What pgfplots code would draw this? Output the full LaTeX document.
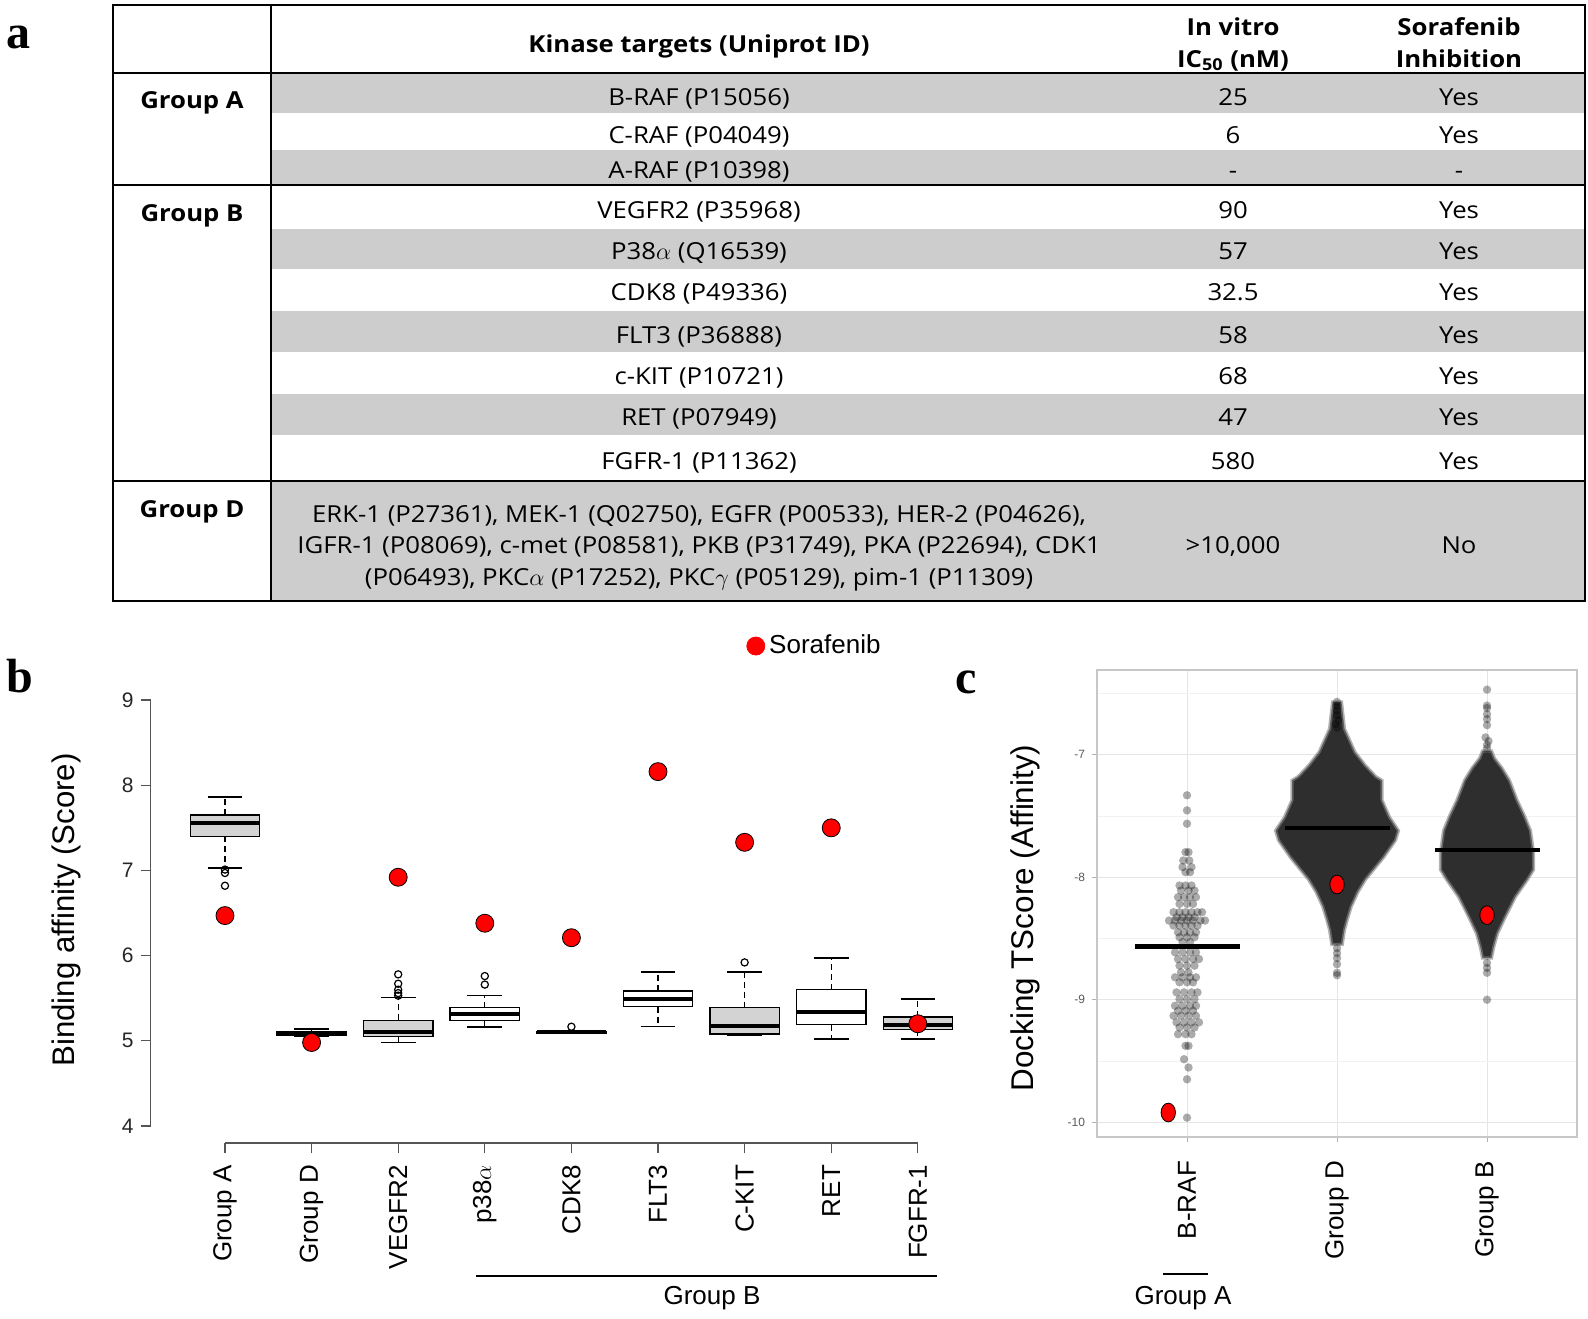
\documentclass[border=0pt]{standalone}
\usepackage{fontspec}
\setmainfont{Liberation Sans}
\newfontfamily\tabfont[FakeStretch=1.1]{Open Sans}
\newfontfamily\serifb{Liberation Serif}
\usepackage{pgfplots}
\pgfplotsset{compat=1.18}
\usepgfplotslibrary{statistics}
\definecolor{tabgray}{RGB}{205,205,205}
\definecolor{boxgray}{RGB}{211,211,211}
\definecolor{axgray}{RGB}{85,85,85}
\definecolor{dotred}{RGB}{255,0,0}
\definecolor{ptgray}{RGB}{150,150,150}
\newcommand\tf{\tabfont\fontsize{11.7}{14}\selectfont}
\newcommand\tfb{\tabfont\bfseries\fontsize{11.7}{14}\selectfont}
\pgfplotsset{
  rbox/.style={
    forget plot,
    boxplot/draw direction=y,
    boxplot/box extend=0.8,
    boxplot/whisker extend=0.4,
    boxplot/every median/.style={line width=2pt},
    boxplot/draw/lower whisker/.code={%
      \draw[line width=0.6pt, dash pattern=on 3pt off 2pt]
        (boxplot cs:\pgfplotsboxplotvalue{lower quartile}) --
        (boxplot cs:\pgfplotsboxplotvalue{lower whisker});
      \draw[line width=0.7pt, solid]
        (boxplot whisker cs:\pgfplotsboxplotvalue{lower whisker},0) --
        (boxplot whisker cs:\pgfplotsboxplotvalue{lower whisker},1);
    },
    boxplot/draw/upper whisker/.code={%
      \draw[line width=0.6pt, dash pattern=on 3pt off 2pt]
        (boxplot cs:\pgfplotsboxplotvalue{upper quartile}) --
        (boxplot cs:\pgfplotsboxplotvalue{upper whisker});
      \draw[line width=0.7pt, solid]
        (boxplot whisker cs:\pgfplotsboxplotvalue{upper whisker},0) --
        (boxplot whisker cs:\pgfplotsboxplotvalue{upper whisker},1);
    },
  },
}
\begin{document}
\begin{tikzpicture}[x=0.5pt,y=-0.5pt]
\useasboundingbox (0,0) rectangle (1588,1318);
% ---------------- panel a : table ----------------
\fill[tabgray] (271,73) rectangle (1585,113);
\fill[tabgray] (271,150) rectangle (1585,185);
\fill[tabgray] (271,229) rectangle (1585,269);
\fill[tabgray] (271,311) rectangle (1585,352);
\fill[tabgray] (271,394) rectangle (1585,435);
\fill[tabgray] (271,481) rectangle (1585,601);
\draw[line width=1.3pt] (113,5) rectangle (1585,601);
\draw[line width=1.1pt] (271,5) -- (271,601);
\draw[line width=1.1pt] (113,73) -- (1585,73);
\draw[line width=1.1pt] (113,185) -- (1585,185);
\draw[line width=1.1pt] (113,481) -- (1585,481);
\node[anchor=base] at (699,52) {\tfb Kinase targets (Uniprot ID)};
\node[anchor=base] at (1233,35) {\tfb In vitro};
\node[anchor=base] at (1233,67) {\tfb IC\textsubscript{50} (nM)};
\node[anchor=base] at (1459,35) {\tfb Sorafenib};
\node[anchor=base] at (1459,67) {\tfb Inhibition};
\node[anchor=base] at (192,108) {\tfb Group A};
\node[anchor=base] at (192,221) {\tfb Group B};
\node[anchor=base] at (192,517) {\tfb Group D};
\node[anchor=base] at (699,105) {\tf B-RAF (P15056)};
\node[anchor=base] at (699,143) {\tf C-RAF (P04049)};
\node[anchor=base] at (699,178) {\tf A-RAF (P10398)};
\node[anchor=base] at (699,218) {\tf VEGFR2 (P35968)};
\node[anchor=base] at (699,259) {\tf P38$\alpha$ (Q16539)};
\node[anchor=base] at (699,300) {\tf CDK8 (P49336)};
\node[anchor=base] at (699,343) {\tf FLT3 (P36888)};
\node[anchor=base] at (699,384) {\tf c-KIT (P10721)};
\node[anchor=base] at (699,425) {\tf RET (P07949)};
\node[anchor=base] at (699,469) {\tf FGFR-1 (P11362)};
\node[anchor=base] at (699,522) {\tf ERK-1 (P27361), MEK-1 (Q02750), EGFR (P00533), HER-2 (P04626),};
\node[anchor=base] at (699,553) {\tf IGFR-1 (P08069), c-met (P08581), PKB (P31749), PKA (P22694), CDK1};
\node[anchor=base] at (699,585) {\tf (P06493), PKC$\alpha$ (P17252), PKC$\gamma$ (P05129), pim-1 (P11309)};
\foreach \y/\v/\w in {105/25/Yes,143/6/Yes,178/-/-,218/90/Yes,259/57/Yes,300/32.5/Yes,343/58/Yes,384/68/Yes,425/47/Yes,469/580/Yes,553/>10{,}000/No}{
  \node[anchor=base] at (1233,\y) {\tf \v};
  \node[anchor=base] at (1459,\y) {\tf \w};
}
% panel letters
\node[anchor=base west, inner sep=0pt] at (6,48) {\serifb\bfseries\fontsize{24}{26}\selectfont a};
\node[anchor=base west, inner sep=0pt] at (6,692) {\serifb\bfseries\fontsize{24}{26}\selectfont b};
\node[anchor=base west, inner sep=0pt] at (955,693) {\serifb\bfseries\fontsize{24}{26}\selectfont c};
% ---------------- panel b : boxplots ----------------
\begin{axis}[
  at={(75.25pt,-571.5pt)}, anchor=south west,
  scale only axis, width=420.9pt, height=230pt,
  xmin=0.14, xmax=9.86, ymin=3.8, ymax=9.2,
  axis x line*=bottom, axis y line*=left,
  axis line style={draw=none},
  xtick={1,2,3,4,5,6,7,8,9},
  xticklabels={Group A,Group D,VEGFR2,p38$\alpha$,CDK8,FLT3,C-KIT,RET,FGFR-1},
  ytick={4,5,6,7,8,9},
  yticklabels={4,5,6,7,8,9},
  tick align=outside, major tick length=5pt,
  tick style={axgray, line width=0.6pt},
  xticklabel style={rotate=90, anchor=east, xshift=-2.5pt, font=\fontsize{13}{15}\selectfont},
  yticklabel style={font=\fontsize{10.5}{12}\selectfont, text=black!85},
  clip=false,
  legend style={at={(0.7074,1.0804)}, anchor=west, draw=none, fill=none,
    inner sep=0pt, font=\fontsize{13}{15}\selectfont},
]
\addplot[forget plot, axgray, line width=0.6pt] coordinates {(0.14,4) (0.14,9)};
\addplot[forget plot, axgray, line width=0.6pt] coordinates {(1,3.8) (9,3.8)};
\addplot[rbox, black, fill=boxgray, line width=0.7pt, boxplot prepared={lower whisker=7.03, lower quartile=7.40, median=7.56, upper quartile=7.65, upper whisker=7.86, draw position=1}] coordinates {};
\addplot[rbox, black, fill=boxgray, line width=0.7pt, boxplot prepared={lower whisker=5.05, lower quartile=5.07, median=5.09, upper quartile=5.11, upper whisker=5.14, draw position=2}] coordinates {};
\addplot[rbox, black, fill=boxgray, line width=0.7pt, boxplot prepared={lower whisker=4.98, lower quartile=5.05, median=5.10, upper quartile=5.24, upper whisker=5.51, draw position=3}] coordinates {};
\addplot[rbox, black, fill=white, line width=0.7pt, boxplot prepared={lower whisker=5.16, lower quartile=5.24, median=5.31, upper quartile=5.39, upper whisker=5.53, draw position=4}] coordinates {};
\addplot[rbox, black, fill=boxgray, line width=0.7pt, boxplot prepared={lower whisker=5.09, lower quartile=5.09, median=5.10, upper quartile=5.11, upper whisker=5.12, draw position=5}] coordinates {};
\addplot[rbox, black, fill=white, line width=0.7pt, boxplot prepared={lower whisker=5.17, lower quartile=5.40, median=5.49, upper quartile=5.585, upper whisker=5.81, draw position=6}] coordinates {};
\addplot[rbox, black, fill=boxgray, line width=0.7pt, boxplot prepared={lower whisker=5.07, lower quartile=5.08, median=5.17, upper quartile=5.39, upper whisker=5.81, draw position=7}] coordinates {};
\addplot[rbox, black, fill=white, line width=0.7pt, boxplot prepared={lower whisker=5.02, lower quartile=5.19, median=5.34, upper quartile=5.60, upper whisker=5.97, draw position=8}] coordinates {};
\addplot[rbox, black, fill=boxgray, line width=0.7pt, boxplot prepared={lower whisker=5.02, lower quartile=5.13, median=5.19, upper quartile=5.28, upper whisker=5.49, draw position=9}] coordinates {};
\addplot[forget plot, only marks, mark=o, mark size=1.8pt, black, line width=0.6pt] coordinates {
 (1,7.01) (1,6.97) (1,6.82)
 (3,5.53) (3,5.56) (3,5.60) (3,5.67) (3,5.78)
 (4,5.66) (4,5.76)
 (5,5.165)
 (7,5.92)};
\addplot[only marks, mark=*, mark size=4.5pt, mark options={fill=dotred, draw=none},
  legend image code/.code={\fill[dotred] (4.5pt,0pt) circle (4.5pt);}] coordinates {
 (1,6.47) (2,4.98) (3,6.92) (4,6.38) (5,6.21) (6,8.16) (7,7.33) (8,7.50) (9,5.20)};
\addlegendentry{Sorafenib}
\end{axis}
\node[rotate=90, font=\fontsize{15.6}{18}\selectfont] at (66,910) {Binding affinity (Score)};
\draw[line width=1pt] (476,1276) -- (937,1276);
\node[font=\fontsize{13}{15}\selectfont] at (712,1298) {Group B};
% ---------------- panel c : beeswarm ----------------
\begin{axis}[
  at={(548.5pt,-568.5pt)}, anchor=south west,
  scale only axis, width=240pt, height=233.5pt,
  xmin=0.4, xmax=3.6, ymin=-10.12, ymax=-6.31,
  xtick={1,2,3}, xticklabels={B-RAF,Group D,Group B},
  ytick={-10,-9,-8,-7}, yticklabels={-10,-9,-8,-7},
  minor ytick={-9.5,-8.5,-7.5,-6.5},
  grid=both,
  major grid style={draw=black!10, line width=0.5pt},
  minor grid style={draw=black!5, line width=0.35pt},
  axis line style={draw=black!22, line width=0.6pt},
  tick style={draw=black!30, line width=0.5pt},
  tick pos=left,
  tick align=outside, major tick length=2.5pt, minor tick length=0pt,
  xticklabel style={rotate=90, anchor=east, xshift=-6pt, font=\fontsize{13}{15}\selectfont},
  yticklabel style={font=\fontsize{6}{7}\selectfont, text=black!65},
]
% Group D swarm envelope
\addplot[fill=black!82, draw=black!50, line width=1.6pt, draw opacity=0.6] coordinates {
 (2.03,-6.57) (2.05,-6.79) (2.12,-6.98) (2.19,-7.09) (2.26,-7.18) (2.30,-7.21) (2.30,-7.37)
 (2.35,-7.51) (2.41,-7.62) (2.39,-7.70) (2.31,-7.84) (2.19,-8.02) (2.14,-8.12) (2.095,-8.24)
 (2.07,-8.34) (2.05,-8.43) (2.035,-8.55)
 (1.965,-8.55) (1.95,-8.43) (1.93,-8.34) (1.905,-8.24) (1.86,-8.12) (1.81,-8.02) (1.69,-7.84)
 (1.61,-7.70) (1.59,-7.62) (1.65,-7.51) (1.70,-7.37) (1.70,-7.21) (1.74,-7.18) (1.81,-7.09)
 (1.88,-6.98) (1.95,-6.79) (1.97,-6.57)} -- cycle;
% Group B swarm envelope
\addplot[fill=black!82, draw=black!50, line width=1.6pt, draw opacity=0.6] coordinates {
 (3.03,-6.97) (3.05,-7.03) (3.10,-7.11) (3.15,-7.21) (3.20,-7.37) (3.25,-7.50) (3.29,-7.62)
 (3.31,-7.80) (3.31,-7.94) (3.27,-8.02) (3.19,-8.16) (3.12,-8.33) (3.07,-8.46) (3.045,-8.57)
 (3.03,-8.66)
 (2.97,-8.66) (2.955,-8.57) (2.93,-8.46) (2.88,-8.33) (2.81,-8.16) (2.73,-8.02) (2.69,-7.94)
 (2.69,-7.80) (2.71,-7.62) (2.75,-7.50) (2.80,-7.37) (2.85,-7.21) (2.90,-7.11) (2.95,-7.03)
 (2.97,-6.97)} -- cycle;
% individual points
\addplot[only marks, draw opacity=0, mark=*, mark size=2.1pt, mark options={fill=black, draw opacity=0, fill opacity=0.33}] coordinates {
 (1.00,-7.332) (1.00,-7.455) (1.00,-7.564)
 (0.99,-7.796) (1.01,-7.796) (0.975,-7.864) (1.015,-7.864) (0.97,-7.918) (1.03,-7.918)
 (0.99,-7.959) (1.02,-7.959)
 (0.95,-8.068) (0.99,-8.068) (1.03,-8.068) (0.96,-8.109) (1.01,-8.109) (1.05,-8.109)
 (0.94,-8.163) (0.98,-8.163) (1.02,-8.163) (1.06,-8.163) (0.95,-8.218) (1.00,-8.218) (1.04,-8.218)
 (0.91,-8.286) (0.95,-8.286) (0.99,-8.286) (1.03,-8.286) (1.07,-8.286) (1.10,-8.286)
 (0.93,-8.327) (0.97,-8.327) (1.01,-8.327) (1.05,-8.327)
 (0.88,-8.354) (0.92,-8.354) (0.96,-8.354) (1.00,-8.354) (1.04,-8.354) (1.09,-8.354) (1.12,-8.354)
 (0.91,-8.395) (0.95,-8.395) (0.99,-8.395) (1.03,-8.395) (1.07,-8.395)
 (0.94,-8.45) (0.98,-8.45) (1.02,-8.45) (1.06,-8.45)
 (0.95,-8.49) (1.00,-8.49) (1.05,-8.49) (0.97,-8.53) (1.02,-8.53)
 (0.92,-8.613) (0.97,-8.613) (1.02,-8.613) (1.06,-8.613)
 (0.94,-8.668) (0.99,-8.668) (1.04,-8.668) (1.08,-8.668)
 (0.95,-8.722) (1.00,-8.722) (1.05,-8.722) (0.96,-8.777) (1.01,-8.777)
 (0.92,-8.817) (0.97,-8.817) (1.02,-8.817) (1.06,-8.817)
 (0.95,-8.858) (1.00,-8.858) (1.04,-8.858)
 (0.93,-8.94) (0.98,-8.94) (1.03,-8.94) (1.07,-8.94)
 (0.95,-8.995) (1.00,-8.995) (1.05,-8.995)
 (0.92,-9.049) (0.97,-9.049) (1.02,-9.049) (1.06,-9.049)
 (0.94,-9.09) (0.99,-9.09) (1.04,-9.09)
 (0.91,-9.131) (0.96,-9.131) (1.01,-9.131) (1.06,-9.131)
 (0.93,-9.185) (0.98,-9.185) (1.03,-9.185) (1.08,-9.185)
 (0.95,-9.226) (1.00,-9.226) (1.05,-9.226)
 (0.94,-9.281) (0.99,-9.281) (1.03,-9.281)
 (0.99,-9.376) (1.01,-9.376) (0.98,-9.485) (1.01,-9.553) (1.00,-9.649) (1.00,-9.962)
 (2,-6.57) (2,-6.60) (2,-6.64) (2,-6.68) (2.01,-6.72) (1.99,-6.75) (2,-6.78)
 (2,-8.58) (2,-8.62) (2,-8.66) (2,-8.71) (2,-8.78) (2,-8.80)
 (3,-6.47) (3,-6.60) (3,-6.62) (3,-6.67) (3,-6.71) (3,-6.76) (2.99,-6.86) (3.01,-6.89) (3,-6.92) (3,-6.95)
 (3,-8.70) (3,-8.74) (3,-8.78) (3,-9.00)};
% mean lines
\addplot[black, line width=2.2pt] coordinates {(0.65,-8.567) (1.35,-8.567)};
\addplot[black, line width=2.2pt] coordinates {(1.65,-7.60) (2.35,-7.60)};
\addplot[black, line width=2.2pt] coordinates {(2.65,-7.78) (3.35,-7.78)};
% sorafenib
\addplot[only marks, mark=*, mark size=3.6pt, mark options={fill=dotred, draw=none, yscale=1.3}] coordinates {
 (0.875,-9.92) (2,-8.06) (3,-8.31)};
\end{axis}
\node[rotate=90, font=\fontsize{15.7}{18}\selectfont] at (1025,918) {Docking TScore (Affinity)};
\draw[line width=0.8pt] (1163,1274) -- (1208,1274);
\node[font=\fontsize{13}{15}\selectfont] at (1183,1298) {Group A};
\end{tikzpicture}
\end{document}
